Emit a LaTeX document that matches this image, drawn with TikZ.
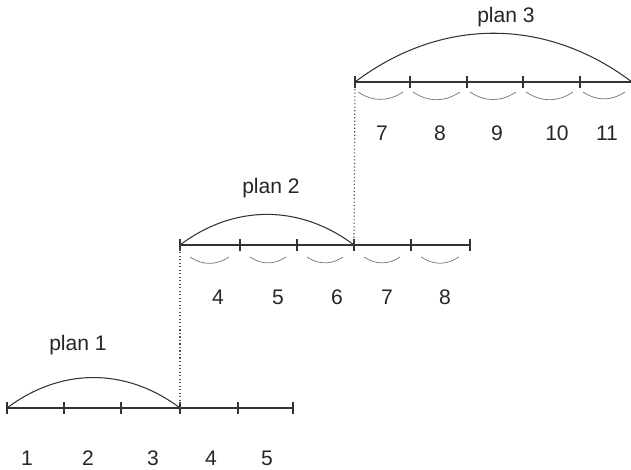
\documentclass[tikz,border=0pt]{standalone}
\usepackage{fontspec}
\setmainfont{Liberation Sans}
\usetikzlibrary{calc}

\begin{document}
\begin{tikzpicture}[
    x=0.03cm, y=-0.03cm,
    every node/.style={font=\fontsize{18}{20}\selectfont, text=black!85, inner sep=0pt},
    axis/.style={draw=black!80, line width=0.9pt},
    tickmark/.style={draw=black!80, line width=0.9pt},
    plan/.style={draw=black!80, line width=0.9pt, bend left=37},
    hop/.style={draw=black!55, line width=0.6pt, bend right=34},
    guide/.style={draw=black!70, dotted, line width=1pt}
]
\useasboundingbox (0,0) rectangle (631,470);
% tick positions of the three plans
\foreach \x [count=\i from 0] in {7,64,121,180,238,293}
  \coordinate (a\i) at (\x,408);
\foreach \x [count=\i from 0] in {180,240,297,354,411,470}
  \coordinate (b\i) at (\x,245);
\foreach \x [count=\i from 0] in {355,410,467,523,580,632}
  \coordinate (c\i) at (\x,82);
% axes and ticks
\draw[axis] (a0) -- (a5);
\draw[axis] (b0) -- (b5);
\draw[axis] (c0) -- (c5);
\foreach \p in {a,b,c}
  \foreach \i in {0,...,5}
    \draw[tickmark] (\p\i) ++(0,-6) -- ++(0,12);
% plan arcs
\draw[plan] (a0) to (a3);
\draw[plan] (b0) to (b3);
\draw[plan] (c0) to (c5);
% small arcs under the steps
\foreach \i [evaluate=\i as \j using int(\i+1)] in {0,...,4} {
  \draw[hop] ($(b\i)+(10,12)$) to ($(b\j)+(-11,12)$);
  \draw[hop] ($(c\i)+(3,10)$) to ($(c\j)+(-7,10)$);
}
% dotted guides
\draw[guide] (b0) -- (a3);
\draw[guide] (c0) -- (b3);
% labels
\node (plan1) at (78,345) {plan 1};
\node (plan2) at (271,188) {plan 2};
\node (plan3) at (506,17) {plan 3};
\foreach \x/\n in {27/1, 88/2, 153/3, 211/4, 267/5}
  \node (na\n) at (\x,458) {\n};
\foreach \x/\n in {218/4, 278/5, 337/6, 387/7, 445/8}
  \node (nb\n) at (\x,297) {\n};
\foreach \x/\n in {382/7, 440/8, 497/9, 557/10, 607/11}
  \node (nc\n) at (\x,133) {\n};
\end{tikzpicture}
\end{document}
